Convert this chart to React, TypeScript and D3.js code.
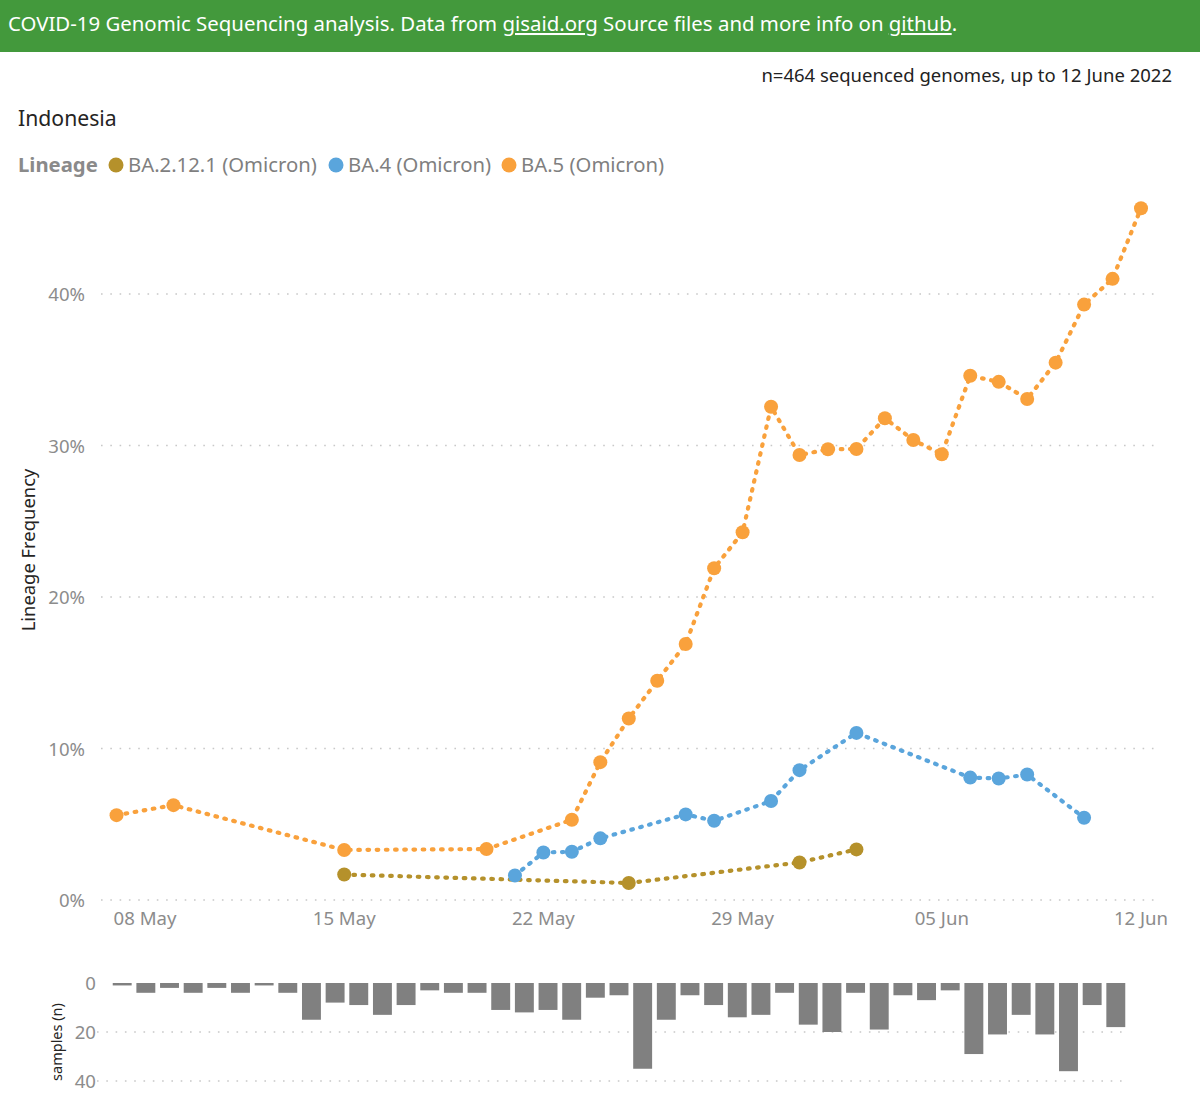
import { useEffect, useRef } from "react";
import * as d3 from "d3";

// ---- data ----
const lineages = ["BA.2.12.1 (Omicron)", "BA.4 (Omicron)", "BA.5 (Omicron)"];
const lineageColors = ["#b5912b", "#5aa5dc", "#f9a13c"];

const ba2121Dates = ["2022-05-15", "2022-05-25", "2022-05-31", "2022-06-02"];
const ba2121Freq = [1.68, 1.12, 2.48, 3.34];

const ba4Dates = [
  "2022-05-21", "2022-05-22", "2022-05-23", "2022-05-24", "2022-05-27",
  "2022-05-28", "2022-05-30", "2022-05-31", "2022-06-02", "2022-06-06",
  "2022-06-07", "2022-06-08", "2022-06-10",
];
const ba4Freq = [1.62, 3.14, 3.18, 4.07, 5.65, 5.23, 6.53, 8.57, 11.03, 8.08, 8.02, 8.28, 5.43];

const ba5Dates = [
  "2022-05-07", "2022-05-09", "2022-05-15", "2022-05-20", "2022-05-23",
  "2022-05-24", "2022-05-25", "2022-05-26", "2022-05-27", "2022-05-28",
  "2022-05-29", "2022-05-30", "2022-05-31", "2022-06-01", "2022-06-02",
  "2022-06-03", "2022-06-04", "2022-06-05", "2022-06-06", "2022-06-07",
  "2022-06-08", "2022-06-09", "2022-06-10", "2022-06-11", "2022-06-12",
];
const ba5Freq = [
  5.6, 6.26, 3.3, 3.36, 5.3, 9.1, 11.98, 14.47, 16.9, 21.9, 24.27, 32.56,
  29.37, 29.75, 29.77, 31.8, 30.36, 29.42, 34.6, 34.2, 33.07, 35.47, 39.3,
  41.0, 45.66,
];

const freqTicks = [0, 10, 20, 30, 40];
const dateTicks = ["2022-05-08", "2022-05-15", "2022-05-22", "2022-05-29", "2022-06-05", "2022-06-12"];

// daily sequenced samples, 01 May – 12 Jun
const sampleDayFirst = "2022-05-01";
const sampleDayLast = "2022-06-12";
const sampleCounts = [
  1, 4, 2, 4, 2, 4, 1, 4, 15, 8, 9, 13, 9, 3, 4, 4, 11, 12, 11, 15, 6, 5,
  35, 15, 5, 9, 14, 13, 4, 17, 20, 4, 19, 5, 7, 3, 29, 21, 13, 21, 36, 9, 18,
];
const sampleTicks = [0, 20, 40];

const FONT = "'Noto Sans', 'Open Sans', sans-serif";

export default function App() {
  const ref = useRef<SVGSVGElement | null>(null);

  useEffect(() => {
    const svg = d3.select(ref.current);
    svg.selectAll("*").remove();

    const W = 1200;
    const H = 1104;
    const parse = d3.utcParse("%Y-%m-%d");

    svg.append("rect").attr("width", W).attr("height", H).attr("fill", "#fff");

    // header bar
    svg.append("rect").attr("width", W).attr("height", 52).attr("fill", "#43993c");
    const head = svg
      .append("text")
      .attr("x", 8)
      .attr("y", 31)
      .attr("font-family", FONT)
      .attr("font-size", 20.4)
      .attr("fill", "#fff");
    head.append("tspan").text("COVID-19 Genomic Sequencing analysis. Data from ");
    head.append("tspan").attr("text-decoration", "underline").text("gisaid.org");
    head.append("tspan").text(" Source files and more info on ");
    head.append("tspan").attr("text-decoration", "underline").text("github");
    head.append("tspan").text(".");

    svg
      .append("text")
      .attr("x", 1172)
      .attr("y", 82)
      .attr("text-anchor", "end")
      .attr("font-family", FONT)
      .attr("font-size", 18.5)
      .attr("fill", "#222")
      .text("n=464 sequenced genomes, up to 12 June 2022");

    svg
      .append("text")
      .attr("x", 18)
      .attr("y", 126)
      .attr("font-family", FONT)
      .attr("font-size", 21.2)
      .attr("fill", "#252423")
      .text("Indonesia");

    // legend
    const legend = svg.append("g").attr("font-family", FONT).attr("font-size", 20.3);
    legend
      .append("text")
      .attr("x", 18)
      .attr("y", 172)
      .attr("font-weight", 700)
      .attr("fill", "#8a8a8a")
      .text("Lineage");
    const legendX = [116, 336, 509];
    lineages.forEach((name, i) => {
      legend
        .append("circle")
        .attr("cx", legendX[i])
        .attr("cy", 165)
        .attr("r", 7.5)
        .attr("fill", lineageColors[i]);
      legend
        .append("text")
        .attr("x", legendX[i] + 12)
        .attr("y", 172)
        .attr("fill", "#7f7f7f")
        .text(name);
    });

    // ---- main chart ----
    const x = d3
      .scaleUtc()
      .domain([parse("2022-05-08")!, parse("2022-06-12")!])
      .range([145, 1141]);
    const y = d3.scaleLinear().domain([0, 40]).range([900, 294]);

    const grid = svg.append("g");
    grid
      .selectAll("line")
      .data(freqTicks)
      .join("line")
      .attr("x1", 101)
      .attr("x2", 1156)
      .attr("y1", (d) => y(d))
      .attr("y2", (d) => y(d))
      .attr("stroke", "#c8c8c8")
      .attr("stroke-width", 1.6)
      .attr("stroke-dasharray", "1.6 7.7");

    svg
      .append("g")
      .selectAll("text")
      .data(freqTicks)
      .join("text")
      .attr("x", 85)
      .attr("y", (d) => y(d) + 7)
      .attr("text-anchor", "end")
      .attr("font-family", FONT)
      .attr("font-size", 18.6)
      .attr("fill", "#8c8c8c")
      .text((d) => `${d}%`);

    svg
      .append("g")
      .selectAll("text")
      .data(dateTicks)
      .join("text")
      .attr("x", (d) => x(parse(d)!))
      .attr("y", 925)
      .attr("text-anchor", "middle")
      .attr("font-family", FONT)
      .attr("font-size", 18.6)
      .attr("fill", "#8c8c8c")
      .text((d) => d3.utcFormat("%d %b")(parse(d)!));

    svg
      .append("text")
      .attr("transform", "translate(35,550) rotate(-90)")
      .attr("text-anchor", "middle")
      .attr("font-family", FONT)
      .attr("font-size", 18.4)
      .attr("fill", "#252423")
      .text("Lineage Frequency");

    const series = [
      { dates: ba2121Dates, values: ba2121Freq, color: lineageColors[0] },
      { dates: ba4Dates, values: ba4Freq, color: lineageColors[1] },
      { dates: ba5Dates, values: ba5Freq, color: lineageColors[2] },
    ];
    const line = d3
      .line<[string, number]>()
      .x((d) => x(parse(d[0])!))
      .y((d) => y(d[1]));

    series.forEach((s) => {
      const pts = s.dates.map((d, i) => [d, s.values[i]] as [string, number]);
      const g = svg.append("g");
      g.append("path")
        .attr("d", line(pts) as string)
        .attr("fill", "none")
        .attr("stroke", s.color)
        .attr("stroke-width", 4.2)
        .attr("stroke-linecap", "round")
        .attr("stroke-dasharray", "1.6 7.6");
      g.selectAll("circle")
        .data(pts)
        .join("circle")
        .attr("cx", (d) => x(parse(d[0])!))
        .attr("cy", (d) => y(d[1]))
        .attr("r", 7)
        .attr("fill", s.color);
    });

    // ---- samples bar chart ----
    const sampleDays = d3.utcDay.range(
      parse(sampleDayFirst)!,
      d3.utcDay.offset(parse(sampleDayLast)!, 1)
    );
    const xb = d3
      .scaleBand<Date>()
      .domain(sampleDays)
      .range([108, 1130])
      .padding(0.2);
    const yb = d3.scaleLinear().domain([0, 40]).range([983, 1081]);

    svg
      .append("g")
      .selectAll("line")
      .data(sampleTicks.filter((d) => d > 0))
      .join("line")
      .attr("x1", 97)
      .attr("x2", 1127)
      .attr("y1", (d) => yb(d))
      .attr("y2", (d) => yb(d))
      .attr("stroke", "#c8c8c8")
      .attr("stroke-width", 1.6)
      .attr("stroke-dasharray", "1.6 7.7");

    svg
      .append("g")
      .selectAll("rect")
      .data(sampleCounts)
      .join("rect")
      .attr("x", (_, i) => xb(sampleDays[i])!)
      .attr("y", yb(0))
      .attr("width", xb.bandwidth())
      .attr("height", (d) => yb(d) - yb(0))
      .attr("fill", "#808080");

    svg
      .append("g")
      .selectAll("text")
      .data(sampleTicks)
      .join("text")
      .attr("x", 96)
      .attr("y", (d) => yb(d) + 7)
      .attr("text-anchor", "end")
      .attr("font-family", FONT)
      .attr("font-size", 18.6)
      .attr("fill", "#8c8c8c")
      .text((d) => String(d));

    svg
      .append("text")
      .attr("transform", "translate(62,1042) rotate(-90)")
      .attr("text-anchor", "middle")
      .attr("font-family", FONT)
      .attr("font-size", 14.5)
      .attr("fill", "#252423")
      .text("samples (n)");
  }, []);

  return (
    <div style={{ position: "absolute", left: 0, top: 0 }}>
      <svg ref={ref} width={1200} height={1104} style={{ display: "block" }} />
    </div>
  );
}
